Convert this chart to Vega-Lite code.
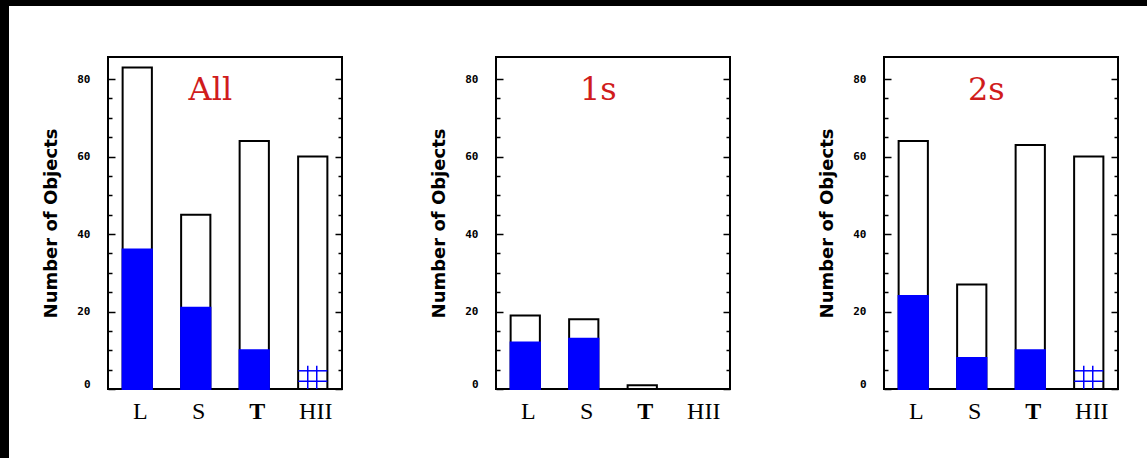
{
  "$schema": "https://vega.github.io/schema/vega-lite/v6.json",
  "background": "white",
  "padding": 0,
  "datasets": {
    "counts": [
      {"panel": "All", "cls": "L", "total": 83, "sub": 36},
      {"panel": "All", "cls": "S", "total": 45, "sub": 21},
      {"panel": "All", "cls": "T", "total": 64, "sub": 10},
      {"panel": "All", "cls": "HII", "total": 60, "sub": 6},
      {"panel": "1s", "cls": "L", "total": 19, "sub": 12},
      {"panel": "1s", "cls": "S", "total": 18, "sub": 13},
      {"panel": "1s", "cls": "T", "total": 1, "sub": 0},
      {"panel": "1s", "cls": "HII", "total": 0, "sub": 0},
      {"panel": "2s", "cls": "L", "total": 64, "sub": 24},
      {"panel": "2s", "cls": "S", "total": 27, "sub": 8},
      {"panel": "2s", "cls": "T", "total": 63, "sub": 10},
      {"panel": "2s", "cls": "HII", "total": 60, "sub": 6}
    ]
  },
  "config": {
    "view": {"stroke": "black", "strokeWidth": 2},
    "axis": {"grid": false, "tickColor": "black", "labelColor": "black", "titleColor": "black"}
  },
  "spacing": 0,
  "hconcat": [
    {"width": 9, "height": 458, "view": {"fill": "black", "stroke": null}, "data": {"values": []}, "mark": "point"},
    {
      "spacing": 50,
      "vconcat": [
        {"width": 1138, "height": 6, "view": {"fill": "black", "stroke": null}, "data": {"values": []}, "mark": "point"},
        {
          "spacing": 0,
          "hconcat": [
            {"width": 32, "height": 1, "view": {"fill": "white", "stroke": null}, "data": {"values": []}, "mark": "point"},
            {
              "spacing": 85,
              "hconcat": [
                {
                  "width": 234, "height": 332,
                  "data": {"name": "counts"},
                  "transform": [{"filter": "datum.panel === 'All'"}],
                  "encoding": {"x": {"field": "cls", "type": "nominal", "title": null, "scale": {"domain": ["L", "S", "T", "HII"], "paddingInner": 0.5, "paddingOuter": 0.25}, "axis": {"labelAngle": 0, "ticks": false, "domain": false, "labelFont": "Liberation Serif", "labelFontSize": 24, "labelPadding": 10, "labelOffset": 3, "labelFontWeight": {"condition": {"test": "datum.value === 'T'", "value": "bold"}, "value": "normal"}}}},
                  "layer": [
                    {"transform": [{"filter": "datum.total > 0"}], "mark": {"type": "bar", "fill": "white", "stroke": "black", "strokeWidth": 2}, "encoding": {"y": {"field": "total", "type": "quantitative", "stack": null, "scale": {"domain": [0, 85.7], "nice": false}, "axis": {"orient": "left", "values": [0, 20, 40, 60, 80], "tickSize": -7, "tickWidth": 1.5, "domain": false, "labelFont": "DejaVu Sans Mono", "labelFontSize": 11, "labelFontWeight": "bold", "labelPadding": 25, "labelFlush": true, "title": "Number of Objects", "titleFont": "DejaVu Sans", "titleFontSize": 18, "titleFontWeight": "bold", "titlePadding": 16}}}},
                    {"transform": [{"filter": "datum.cls !== 'HII' && datum.sub > 0"}], "mark": {"type": "bar", "fill": "#0000ff", "stroke": "#0000ff", "strokeWidth": 2}, "encoding": {"y": {"field": "sub", "type": "quantitative", "stack": null, "scale": {"domain": [0, 85.7], "nice": false}, "axis": {"orient": "left", "domain": false, "values": [5, 10, 15, 25, 30, 35, 45, 50, 55, 65, 70, 75], "tickSize": -4, "tickWidth": 1.5, "labels": false, "title": null}}}},
                    {"transform": [{"filter": "datum.cls === 'HII' && datum.sub > 0"}], "mark": {"type": "rule", "color": "#0000ff", "strokeWidth": 1.5, "xOffset": -5}, "encoding": {"y": {"field": "sub", "type": "quantitative", "scale": {"domain": [0, 85.7], "nice": false}, "axis": {"orient": "right", "domain": false, "values": [0, 20, 40, 60, 80], "tickSize": -7, "tickWidth": 1.5, "labels": false, "title": null}}, "y2": {"datum": 0}}},
                    {"transform": [{"filter": "datum.cls === 'HII' && datum.sub > 0"}], "mark": {"type": "rule", "color": "#0000ff", "strokeWidth": 1.5, "xOffset": 4}, "encoding": {"y": {"field": "sub", "type": "quantitative", "scale": {"domain": [0, 85.7], "nice": false}, "axis": {"orient": "right", "domain": false, "values": [5, 10, 15, 25, 30, 35, 45, 50, 55, 65, 70, 75], "tickSize": -4, "tickWidth": 1.5, "labels": false, "title": null}}, "y2": {"datum": 0}}},
                    {"transform": [{"filter": "datum.cls === 'HII' && datum.sub > 0"}], "mark": {"type": "tick", "color": "#0000ff", "opacity": 1, "size": 29, "thickness": 1.5}, "encoding": {"y": {"datum": 2.0, "type": "quantitative", "scale": {"domain": [0, 85.7], "nice": false}, "axis": {"orient": "left", "ticks": false, "labels": false, "domain": false, "title": null}}}},
                    {"transform": [{"filter": "datum.cls === 'HII' && datum.sub > 0"}], "mark": {"type": "tick", "color": "#0000ff", "opacity": 1, "size": 29, "thickness": 1.5}, "encoding": {"y": {"datum": 4.7, "type": "quantitative", "scale": {"domain": [0, 85.7], "nice": false}, "axis": {"orient": "left", "ticks": false, "labels": false, "domain": false, "title": null}}}},
                    {"transform": [{"filter": "datum.cls === 'S'"}], "mark": {"type": "text", "font": "DejaVu Serif", "fontSize": 32, "color": "#d01c1c", "baseline": "alphabetic", "align": "center"}, "encoding": {"x": {"field": "cls", "type": "nominal", "title": null, "bandPosition": 1, "scale": {"domain": ["L", "S", "T", "HII"], "paddingInner": 0.5, "paddingOuter": 0.25}, "axis": {"labelAngle": 0, "ticks": false, "domain": false, "labelFont": "Liberation Serif", "labelFontSize": 24, "labelPadding": 10, "labelOffset": 3, "labelFontWeight": {"condition": {"test": "datum.value === 'T'", "value": "bold"}, "value": "normal"}}}, "y": {"datum": 74.6, "type": "quantitative", "scale": {"domain": [0, 85.7], "nice": false}, "axis": {"orient": "right", "ticks": false, "labels": false, "domain": false, "title": null}}, "text": {"field": "panel"}}}
                  ],
                  "resolve": {"axis": {"y": "independent"}, "scale": {"y": "shared"}}
                },
                {
                  "width": 234, "height": 332,
                  "data": {"name": "counts"},
                  "transform": [{"filter": "datum.panel === '1s'"}],
                  "encoding": {"x": {"field": "cls", "type": "nominal", "title": null, "scale": {"domain": ["L", "S", "T", "HII"], "paddingInner": 0.5, "paddingOuter": 0.25}, "axis": {"labelAngle": 0, "ticks": false, "domain": false, "labelFont": "Liberation Serif", "labelFontSize": 24, "labelPadding": 10, "labelOffset": 3, "labelFontWeight": {"condition": {"test": "datum.value === 'T'", "value": "bold"}, "value": "normal"}}}},
                  "layer": [
                    {"transform": [{"filter": "datum.total > 0"}], "mark": {"type": "bar", "fill": "white", "stroke": "black", "strokeWidth": 2}, "encoding": {"y": {"field": "total", "type": "quantitative", "stack": null, "scale": {"domain": [0, 85.7], "nice": false}, "axis": {"orient": "left", "values": [0, 20, 40, 60, 80], "tickSize": -7, "tickWidth": 1.5, "domain": false, "labelFont": "DejaVu Sans Mono", "labelFontSize": 11, "labelFontWeight": "bold", "labelPadding": 25, "labelFlush": true, "title": "Number of Objects", "titleFont": "DejaVu Sans", "titleFontSize": 18, "titleFontWeight": "bold", "titlePadding": 16}}}},
                    {"transform": [{"filter": "datum.cls !== 'HII' && datum.sub > 0"}], "mark": {"type": "bar", "fill": "#0000ff", "stroke": "#0000ff", "strokeWidth": 2}, "encoding": {"y": {"field": "sub", "type": "quantitative", "stack": null, "scale": {"domain": [0, 85.7], "nice": false}, "axis": {"orient": "left", "domain": false, "values": [5, 10, 15, 25, 30, 35, 45, 50, 55, 65, 70, 75], "tickSize": -4, "tickWidth": 1.5, "labels": false, "title": null}}}},
                    {"transform": [{"filter": "datum.cls === 'HII' && datum.sub > 0"}], "mark": {"type": "rule", "color": "#0000ff", "strokeWidth": 1.5, "xOffset": -5}, "encoding": {"y": {"field": "sub", "type": "quantitative", "scale": {"domain": [0, 85.7], "nice": false}, "axis": {"orient": "right", "domain": false, "values": [0, 20, 40, 60, 80], "tickSize": -7, "tickWidth": 1.5, "labels": false, "title": null}}, "y2": {"datum": 0}}},
                    {"transform": [{"filter": "datum.cls === 'HII' && datum.sub > 0"}], "mark": {"type": "rule", "color": "#0000ff", "strokeWidth": 1.5, "xOffset": 4}, "encoding": {"y": {"field": "sub", "type": "quantitative", "scale": {"domain": [0, 85.7], "nice": false}, "axis": {"orient": "right", "domain": false, "values": [5, 10, 15, 25, 30, 35, 45, 50, 55, 65, 70, 75], "tickSize": -4, "tickWidth": 1.5, "labels": false, "title": null}}, "y2": {"datum": 0}}},
                    {"transform": [{"filter": "datum.cls === 'HII' && datum.sub > 0"}], "mark": {"type": "tick", "color": "#0000ff", "opacity": 1, "size": 29, "thickness": 1.5}, "encoding": {"y": {"datum": 2.0, "type": "quantitative", "scale": {"domain": [0, 85.7], "nice": false}, "axis": {"orient": "left", "ticks": false, "labels": false, "domain": false, "title": null}}}},
                    {"transform": [{"filter": "datum.cls === 'HII' && datum.sub > 0"}], "mark": {"type": "tick", "color": "#0000ff", "opacity": 1, "size": 29, "thickness": 1.5}, "encoding": {"y": {"datum": 4.7, "type": "quantitative", "scale": {"domain": [0, 85.7], "nice": false}, "axis": {"orient": "left", "ticks": false, "labels": false, "domain": false, "title": null}}}},
                    {"transform": [{"filter": "datum.cls === 'S'"}], "mark": {"type": "text", "font": "DejaVu Serif", "fontSize": 32, "color": "#d01c1c", "baseline": "alphabetic", "align": "center"}, "encoding": {"x": {"field": "cls", "type": "nominal", "title": null, "bandPosition": 1, "scale": {"domain": ["L", "S", "T", "HII"], "paddingInner": 0.5, "paddingOuter": 0.25}, "axis": {"labelAngle": 0, "ticks": false, "domain": false, "labelFont": "Liberation Serif", "labelFontSize": 24, "labelPadding": 10, "labelOffset": 3, "labelFontWeight": {"condition": {"test": "datum.value === 'T'", "value": "bold"}, "value": "normal"}}}, "y": {"datum": 74.6, "type": "quantitative", "scale": {"domain": [0, 85.7], "nice": false}, "axis": {"orient": "right", "ticks": false, "labels": false, "domain": false, "title": null}}, "text": {"field": "panel"}}}
                  ],
                  "resolve": {"axis": {"y": "independent"}, "scale": {"y": "shared"}}
                },
                {
                  "width": 234, "height": 332,
                  "data": {"name": "counts"},
                  "transform": [{"filter": "datum.panel === '2s'"}],
                  "encoding": {"x": {"field": "cls", "type": "nominal", "title": null, "scale": {"domain": ["L", "S", "T", "HII"], "paddingInner": 0.5, "paddingOuter": 0.25}, "axis": {"labelAngle": 0, "ticks": false, "domain": false, "labelFont": "Liberation Serif", "labelFontSize": 24, "labelPadding": 10, "labelOffset": 3, "labelFontWeight": {"condition": {"test": "datum.value === 'T'", "value": "bold"}, "value": "normal"}}}},
                  "layer": [
                    {"transform": [{"filter": "datum.total > 0"}], "mark": {"type": "bar", "fill": "white", "stroke": "black", "strokeWidth": 2}, "encoding": {"y": {"field": "total", "type": "quantitative", "stack": null, "scale": {"domain": [0, 85.7], "nice": false}, "axis": {"orient": "left", "values": [0, 20, 40, 60, 80], "tickSize": -7, "tickWidth": 1.5, "domain": false, "labelFont": "DejaVu Sans Mono", "labelFontSize": 11, "labelFontWeight": "bold", "labelPadding": 25, "labelFlush": true, "title": "Number of Objects", "titleFont": "DejaVu Sans", "titleFontSize": 18, "titleFontWeight": "bold", "titlePadding": 16}}}},
                    {"transform": [{"filter": "datum.cls !== 'HII' && datum.sub > 0"}], "mark": {"type": "bar", "fill": "#0000ff", "stroke": "#0000ff", "strokeWidth": 2}, "encoding": {"y": {"field": "sub", "type": "quantitative", "stack": null, "scale": {"domain": [0, 85.7], "nice": false}, "axis": {"orient": "left", "domain": false, "values": [5, 10, 15, 25, 30, 35, 45, 50, 55, 65, 70, 75], "tickSize": -4, "tickWidth": 1.5, "labels": false, "title": null}}}},
                    {"transform": [{"filter": "datum.cls === 'HII' && datum.sub > 0"}], "mark": {"type": "rule", "color": "#0000ff", "strokeWidth": 1.5, "xOffset": -5}, "encoding": {"y": {"field": "sub", "type": "quantitative", "scale": {"domain": [0, 85.7], "nice": false}, "axis": {"orient": "right", "domain": false, "values": [0, 20, 40, 60, 80], "tickSize": -7, "tickWidth": 1.5, "labels": false, "title": null}}, "y2": {"datum": 0}}},
                    {"transform": [{"filter": "datum.cls === 'HII' && datum.sub > 0"}], "mark": {"type": "rule", "color": "#0000ff", "strokeWidth": 1.5, "xOffset": 4}, "encoding": {"y": {"field": "sub", "type": "quantitative", "scale": {"domain": [0, 85.7], "nice": false}, "axis": {"orient": "right", "domain": false, "values": [5, 10, 15, 25, 30, 35, 45, 50, 55, 65, 70, 75], "tickSize": -4, "tickWidth": 1.5, "labels": false, "title": null}}, "y2": {"datum": 0}}},
                    {"transform": [{"filter": "datum.cls === 'HII' && datum.sub > 0"}], "mark": {"type": "tick", "color": "#0000ff", "opacity": 1, "size": 29, "thickness": 1.5}, "encoding": {"y": {"datum": 2.0, "type": "quantitative", "scale": {"domain": [0, 85.7], "nice": false}, "axis": {"orient": "left", "ticks": false, "labels": false, "domain": false, "title": null}}}},
                    {"transform": [{"filter": "datum.cls === 'HII' && datum.sub > 0"}], "mark": {"type": "tick", "color": "#0000ff", "opacity": 1, "size": 29, "thickness": 1.5}, "encoding": {"y": {"datum": 4.7, "type": "quantitative", "scale": {"domain": [0, 85.7], "nice": false}, "axis": {"orient": "left", "ticks": false, "labels": false, "domain": false, "title": null}}}},
                    {"transform": [{"filter": "datum.cls === 'S'"}], "mark": {"type": "text", "font": "DejaVu Serif", "fontSize": 32, "color": "#d01c1c", "baseline": "alphabetic", "align": "center"}, "encoding": {"x": {"field": "cls", "type": "nominal", "title": null, "bandPosition": 1, "scale": {"domain": ["L", "S", "T", "HII"], "paddingInner": 0.5, "paddingOuter": 0.25}, "axis": {"labelAngle": 0, "ticks": false, "domain": false, "labelFont": "Liberation Serif", "labelFontSize": 24, "labelPadding": 10, "labelOffset": 3, "labelFontWeight": {"condition": {"test": "datum.value === 'T'", "value": "bold"}, "value": "normal"}}}, "y": {"datum": 74.6, "type": "quantitative", "scale": {"domain": [0, 85.7], "nice": false}, "axis": {"orient": "right", "ticks": false, "labels": false, "domain": false, "title": null}}, "text": {"field": "panel"}}}
                  ],
                  "resolve": {"axis": {"y": "independent"}, "scale": {"y": "shared"}}
                }
              ]
            }
          ]
        }
      ]
    }
  ]
}
